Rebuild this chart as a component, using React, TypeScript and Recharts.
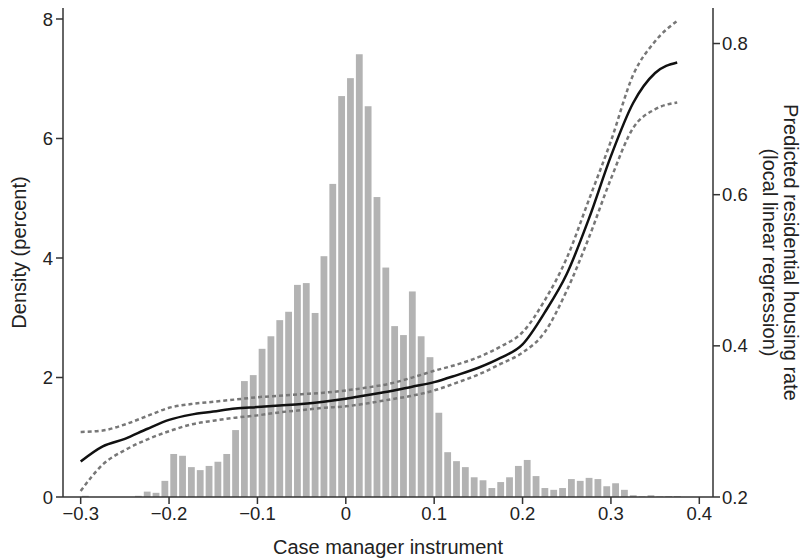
import { ComposedChart, Bar, Line, XAxis, YAxis } from "recharts";

// histogram of the instrument, bins of width 0.01 starting at -0.295 (centres)
const BIN_START = -0.295;
const BIN_WIDTH = 0.01;
const density = [
  0.02, 0, 0, 0, 0, 0, 0.02, 0.09, 0.07, 0.27,
  0.72, 0.69, 0.5, 0.45, 0.52, 0.59, 0.72, 1.12, 1.94, 2.04,
  2.48, 2.69, 2.96, 3.1, 3.55, 3.58, 3.08, 4.03, 5.24, 6.71,
  7.01, 7.41, 6.54, 5.02, 3.84, 2.86, 2.71, 3.44, 2.69, 2.34,
  1.41, 0.75, 0.6, 0.5, 0.33, 0.28, 0.15, 0.25, 0.33, 0.52,
  0.62, 0.35, 0.15, 0.12, 0.15, 0.3, 0.27, 0.32, 0.3, 0.18,
  0.23, 0.12, 0.03, 0.01, 0.03, 0.01, 0.015, 0.015,
];

// local linear regression fit + confidence band
const fitX = [
  -0.3, -0.275, -0.25, -0.225, -0.2, -0.175, -0.15, -0.125, -0.1, -0.075,
  -0.05, -0.025, 0, 0.025, 0.05, 0.075, 0.1, 0.125, 0.15, 0.175,
  0.2, 0.225, 0.25, 0.275, 0.3, 0.325, 0.35, 0.375,
];
const fit = [
  0.247, 0.267, 0.277, 0.29, 0.302, 0.309, 0.313, 0.317, 0.319, 0.321,
  0.323, 0.326, 0.33, 0.335, 0.34, 0.346, 0.352, 0.361, 0.371, 0.384,
  0.402, 0.444, 0.495, 0.568, 0.651, 0.721, 0.761, 0.775,
];
const upper = [
  0.286, 0.288, 0.296, 0.307, 0.318, 0.323, 0.326, 0.329, 0.332, 0.334,
  0.336, 0.338, 0.341, 0.345, 0.35, 0.358, 0.367, 0.375, 0.385, 0.399,
  0.418, 0.46, 0.516, 0.593, 0.671, 0.758, 0.803, 0.83,
];
const lower = [
  0.208, 0.243, 0.262, 0.276, 0.287, 0.296, 0.301, 0.305, 0.308, 0.312,
  0.315, 0.318, 0.32, 0.324, 0.329, 0.334, 0.341, 0.351, 0.362, 0.376,
  0.391, 0.418, 0.473, 0.543, 0.621, 0.688, 0.713, 0.722,
];

const xTicks = [-0.3, -0.2, -0.1, 0, 0.1, 0.2, 0.3, 0.4];
const leftTicks = [0, 2, 4, 6, 8];
const rightTicks = [0.2, 0.4, 0.6, 0.8];

const histRows = density.map((d, i) => ({ x: BIN_START + i * BIN_WIDTH, density: d }));
const fitRows = fitX.map((x, i) => ({ x, fit: fit[i], upper: upper[i], lower: lower[i] }));

const FONT = "'Liberation Sans', Arial, Helvetica, sans-serif";
const INK = "#222";
const BAR_W = 6.8;

const fmt = (v: number) => String(v).replace("-", "\u2212");

// recharts squeezes bars on a number axis, so redraw each one at a fixed width
// around the centre it computed
const HistBar = (p: any) => {
  if (!p.height || p.height <= 0) return null;
  const cx = p.x + p.width / 2;
  return <rect x={cx - BAR_W / 2} y={p.y} width={BAR_W} height={p.height} fill="#b3b3b3" />;
};

const XTitle = (props: any) => {
  const { x, y, width } = props.viewBox;
  return (
    <text x={x + width / 2} y={y + 57} textAnchor="middle" fontSize={20} fontFamily={FONT} fill={INK}>
      Case manager instrument
    </text>
  );
};

const LeftTitle = (props: any) => {
  const { y, height } = props.viewBox;
  const cy = y + height / 2;
  return (
    <text
      x={19}
      y={cy}
      transform={`rotate(-90, 19, ${cy})`}
      textAnchor="middle"
      dominantBaseline="central"
      fontSize={20}
      fontFamily={FONT}
      fill={INK}
    >
      Density (percent)
    </text>
  );
};

const RightTitle = (props: any) => {
  const { x, y, height } = props.viewBox;
  const cy = y + height / 2;
  const x1 = x + 78;
  const x2 = x + 57;
  return (
    <g fontSize={20} fontFamily={FONT} fill={INK} textAnchor="middle">
      <text x={x1} y={cy} transform={`rotate(90, ${x1}, ${cy})`} dominantBaseline="central">
        Predicted residential housing rate
      </text>
      <text x={x2} y={cy} transform={`rotate(90, ${x2}, ${cy})`} dominantBaseline="central">
        (local linear regression)
      </text>
    </g>
  );
};

export default function App() {
  const tickStyle = { fill: INK, fontSize: 18.5, fontFamily: FONT };
  const axisStroke = { stroke: "#333", strokeWidth: 1.5 };
  return (
    <div style={{ position: "absolute", left: 0, top: 0, background: "#fff" }}>
      <ComposedChart
        width={801}
        height={560}
        data={histRows}
        margin={{ top: 8, right: 0, bottom: 0, left: 0 }}
      >
        <XAxis
          dataKey="x"
          type="number"
          domain={[-0.32, 0.4155]}
          allowDataOverflow
          ticks={xTicks}
          tickFormatter={fmt}
          height={63}
          tick={tickStyle}
          tickSize={7}
          tickMargin={3}
          axisLine={axisStroke}
          tickLine={axisStroke}
          label={{ content: XTitle }}
        />
        <YAxis
          yAxisId="left"
          domain={[0, 8.184]}
          allowDataOverflow
          ticks={leftTicks}
          width={63}
          tick={tickStyle}
          tickSize={7}
          tickMargin={3}
          axisLine={axisStroke}
          tickLine={axisStroke}
          label={{ content: LeftTitle }}
        />
        <YAxis
          yAxisId="right"
          orientation="right"
          domain={[0.2, 0.847]}
          allowDataOverflow
          ticks={rightTicks}
          tickFormatter={(v: number) => v.toFixed(1)}
          width={88}
          tick={tickStyle}
          tickSize={7}
          tickMargin={2}
          axisLine={axisStroke}
          tickLine={axisStroke}
          label={{ content: RightTitle }}
        />
        <Bar yAxisId="left" dataKey="density" fill="#b3b3b3" shape={HistBar} isAnimationActive={false} />
        <Line
          yAxisId="right"
          data={fitRows}
          dataKey="upper"
          type="monotone"
          stroke="#777"
          strokeWidth={2.5}
          strokeDasharray="4 3"
          dot={false}
          isAnimationActive={false}
        />
        <Line
          yAxisId="right"
          data={fitRows}
          dataKey="lower"
          type="monotone"
          stroke="#777"
          strokeWidth={2.5}
          strokeDasharray="4 3"
          dot={false}
          isAnimationActive={false}
        />
        <Line
          yAxisId="right"
          data={fitRows}
          dataKey="fit"
          type="monotone"
          stroke="#111"
          strokeWidth={2.5}
          dot={false}
          isAnimationActive={false}
        />
      </ComposedChart>
    </div>
  );
}
